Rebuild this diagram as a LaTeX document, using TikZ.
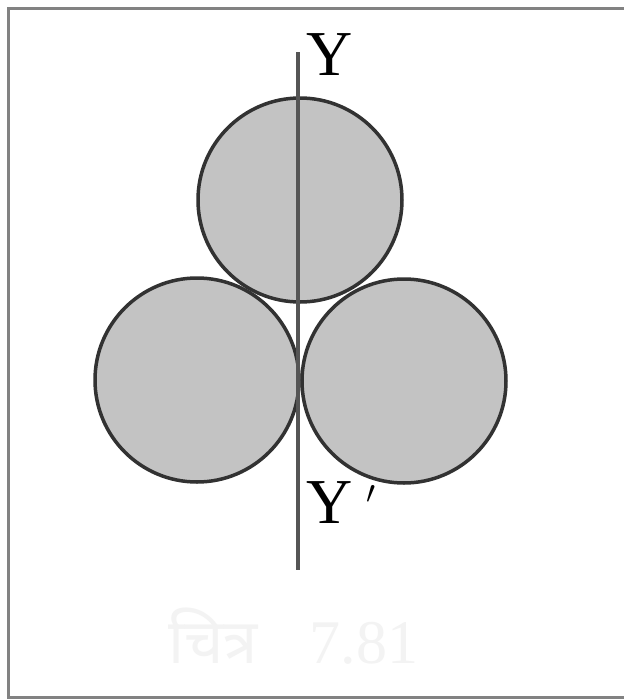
\documentclass[tikz,border=0pt]{standalone}
\usepackage{fontspec}
\setmainfont{Liberation Serif}
\newfontfamily\devfont[Script=Devanagari]{Noto Sans}
\definecolor{ballfill}{RGB}{195,195,195}
\definecolor{ballline}{RGB}{50,50,50}
\definecolor{axisline}{RGB}{85,85,85}
\definecolor{frameline}{RGB}{130,130,130}
\definecolor{captiongray}{RGB}{243,243,243}
\begin{document}
\begin{tikzpicture}[x=1pt,y=-1pt,
  ball/.style={circle,draw=ballline,fill=ballfill,line width=3.5pt,minimum size=204pt,inner sep=0pt},
  axislbl/.style={font=\fontsize{64}{64}\selectfont,inner sep=0pt,text=black},
  framestroke/.style={draw=frameline,line width=3pt}]
\useasboundingbox (0,0) rectangle (624,699);
\fill[white] (0,0) rectangle (624,699);
% frame
\coordinate (ftl) at (8,8);
\coordinate (ftr) at (624,8);
\coordinate (fbl) at (8,697);
\coordinate (fbr) at (624,697);
\draw[framestroke] (ftr) -- (ftl) -- (fbl) -- (fbr);
% balls
\node[ball] (top) at (300,200) {};
\node[ball] (left) at (197,380) {};
\node[ball] (right) at (404,381) {};
% axis
\coordinate (axtop) at (298,52);
\coordinate (axbot) at (298,570);
\draw[draw=axisline,line width=3.5pt] (axtop) -- (axbot);
% labels
\node[axislbl,anchor=north west] (ylbl) at (306,33) {Y};
\node[axislbl,anchor=north west] (yplbl) at (306,481) {Y\kern14pt\raisebox{8pt}{\scalebox{1.3}{$^{\prime}$}}};
% caption
\node[anchor=west,inner sep=0pt,text=captiongray,font=\fontsize{62}{62}\selectfont] (cap) at (168,636) {{\devfont चित्र}\hspace{52pt}7.81};
\end{tikzpicture}
\end{document}
